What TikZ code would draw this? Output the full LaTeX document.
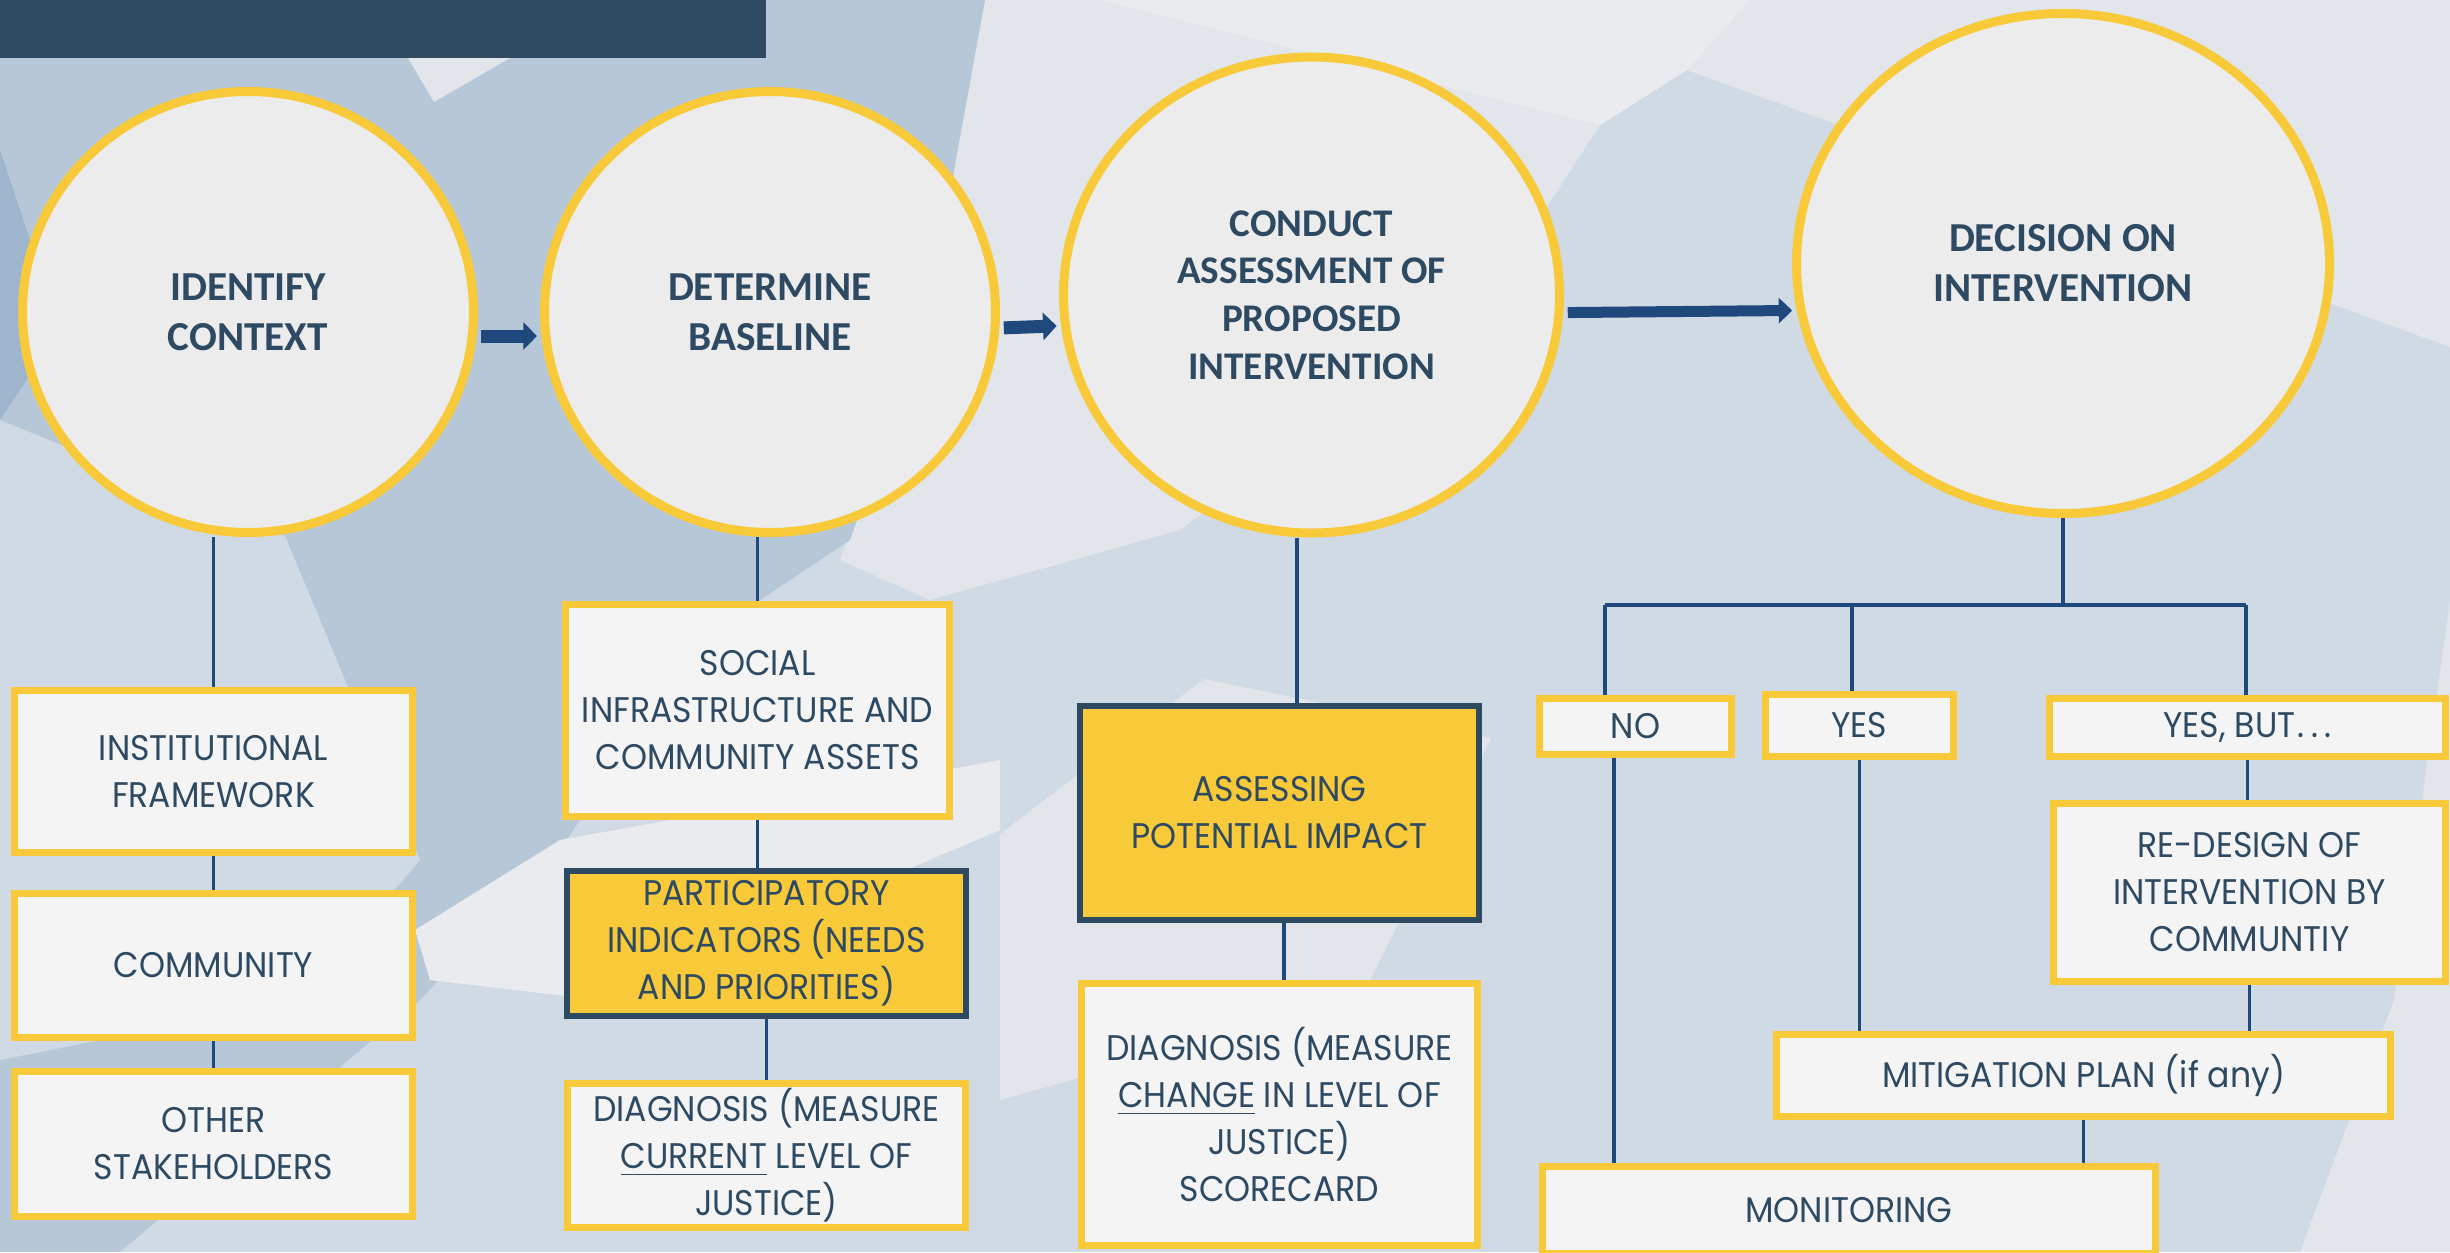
\documentclass[tikz,border=0pt]{standalone}
\usepackage{fontspec}
\newfontfamily\boxfont[FakeStretch=0.93]{Poppins}
\newfontfamily\circfont{Carlito}
\usetikzlibrary{shapes.geometric,arrows.meta}
\definecolor{navy}{HTML}{2E4A62}
\definecolor{gold}{HTML}{F8C938}
\definecolor{cfill}{HTML}{ECECEC}
\definecolor{bfill}{HTML}{F4F4F4}
\definecolor{linkblue}{HTML}{1F497D}
\definecolor{bgbase}{HTML}{D0DAE4}
\definecolor{bgmid}{HTML}{B6C7D8}
\definecolor{bgdark}{HTML}{9FB5CE}
\definecolor{bglight}{HTML}{E2E6EB}
\definecolor{bgpale}{HTML}{E9EBEE}
\pgfdeclarelayer{bg}
\pgfdeclarelayer{lk}
\pgfsetlayers{bg,lk,main}
\tikzset{
  circ/.style={ellipse, draw=gold, line width=2.25pt, fill=cfill, text=navy,
    font=\circfont\bfseries\fontsize{10.3}{12.5}\selectfont, align=center, inner sep=0pt},
  circsmall/.style={circ, font=\circfont\bfseries\fontsize{9.8}{11.9}\selectfont},
  wbox/.style={rectangle, draw=gold, line width=1.75pt, fill=bfill, text=navy,
    font=\boxfont\fontsize{8.9}{11.75}\selectfont, align=center, inner sep=0pt},
  ybox/.style={wbox, draw=navy, fill=gold, line width=1.5pt},
  link/.style={draw=linkblue, line width=0.9pt},
  flow/.style={draw=linkblue, line width=3.25pt, shorten <=1.1pt, shorten >=1.1pt,
    -{Triangle[width=6.75pt,length=3.4pt]}},
  flowthin/.style={flow, line width=2.75pt, -{Triangle[width=6.25pt,length=3.4pt]}}
}
\newcommand{\myul}[1]{\underline{#1}}
\begin{document}
\begin{tikzpicture}[x=0.25pt,y=-0.25pt]
\useasboundingbox (0,0) rectangle (2450,1252);
\begin{pgfonlayer}{bg}
\fill[bgbase] (0,0) rectangle (2450,1252);
\fill[bglight] (985,0) -- (2450,0) -- (2450,347) -- (1687,70) -- (1600,125) -- (1480,310) -- (1180,530) -- (930,600) -- (840,560) -- (925,330) -- cycle;
\fill[bgpale] (1100,0) -- (1750,0) -- (1687,70) -- (1600,125) -- cycle;
\fill[bgmid] (0,0) -- (985,0) -- (925,330) -- (850,540) -- (700,640) -- (560,850) -- (420,1000) -- (120,1252) -- (0,1252) -- cycle;
\fill[bgbase] (0,420) -- (285,536) -- (420,860) -- (300,1000) -- (0,1060) -- cycle;
\fill[bgdark] (0,150) -- (60,330) -- (0,420) -- cycle;
\fill[bglight] (408,58) -- (510,58) -- (434,102) -- cycle;
\fill[bgpale] (415,930) -- (560,840) -- (1000,760) -- (1000,830) -- (600,1000) -- (430,980) -- cycle;
\fill[bglight] (1000,834) -- (1204,679) -- (1491,738) -- (1360,1000) -- (1000,1100) -- cycle;
\fill[bglight] (2450,600) -- (2450,1252) -- (2300,1252) -- (2394,1000) -- cycle;
\fill[navy] (0,0) rectangle (766,58);
\end{pgfonlayer}
% main circles
\node[circ, minimum width=112.75pt, minimum height=110.25pt] (C1) at (248,312) {IDENTIFY\\CONTEXT};
\node[circ, minimum width=112.75pt, minimum height=110.25pt] (C2) at (770,312) {DETERMINE\\BASELINE};
\node[circsmall, minimum width=124pt, minimum height=119pt] (C3) at (1311.5,295) {CONDUCT\\ASSESSMENT OF\\PROPOSED\\INTERVENTION};
\node[circ, minimum width=133.25pt, minimum height=125pt] (C4) at (2063,263.5) {DECISION ON\\INTERVENTION};
% boxes
\node[wbox, minimum width=99.5pt, minimum height=40.5pt] (INST) at (213.5,771.5) {INSTITUTIONAL\\FRAMEWORK};
\node[wbox, minimum width=99.5pt, minimum height=36pt] (COMM) at (213.5,965.5) {COMMUNITY};
\node[wbox, minimum width=99.5pt, minimum height=36.25pt] (OTHER) at (213.5,1144) {OTHER\\STAKEHOLDERS};
\node[wbox, minimum width=96pt, minimum height=53pt] (SOCIAL) at (757.5,710.5) {SOCIAL\\INFRASTRUCTURE AND\\COMMUNITY ASSETS};
\node[ybox, minimum width=99.75pt, minimum height=36.25pt] (PART) at (766.5,943.5) {PARTICIPATORY\\INDICATORS (NEEDS\\AND PRIORITIES)};
\node[wbox, minimum width=99.5pt, minimum height=36pt] (DIAGA) at (766.5,1155.5) {DIAGNOSIS (MEASURE\\\myul{CURRENT} LEVEL OF\\JUSTICE)};
\node[ybox, minimum width=99.75pt, minimum height=53.5pt] (ASSESS) at (1279.5,813) {ASSESSING\\POTENTIAL IMPACT};
\node[wbox, minimum width=99pt, minimum height=65.5pt] (DIAGB) at (1279.5,1114.5) {DIAGNOSIS (MEASURE\\\myul{CHANGE} IN LEVEL OF\\JUSTICE)\\SCORECARD};
\node[wbox, minimum width=48pt, minimum height=14pt] (NO) at (1635.5,726.5) {NO};
\node[wbox, minimum width=47pt, minimum height=15.5pt] (YES) at (1859.5,725.5) {YES};
\node[wbox, minimum width=99pt, minimum height=14.5pt] (YESBUT) at (2247.5,727.5) {YES, BUT\kern0.6pt.\kern1.6pt.\kern1.6pt.};
\node[wbox, minimum width=98pt, minimum height=44.5pt] (REDES) at (2249.5,892.5) {RE-DESIGN OF\\INTERVENTION BY\\COMMUNTIY};
\node[wbox, minimum width=153.5pt, minimum height=20.5pt] (MITIG) at (2083.5,1075.5) {MITIGATION PLAN (if any)};
\node[wbox, minimum width=153.25pt, minimum height=21.75pt] (MONIT) at (1849,1210) {MONITORING};
\coordinate (barL) at (1605,605);
\coordinate (barM) at (1852,605);
\coordinate (barR) at (2246,605);
% links (beneath the nodes)
\begin{pgfonlayer}{lk}
\draw[link] (INST.north) -- (INST.north |- C1.south);
\draw[link] (INST.south) -- (COMM.north);
\draw[link] (COMM.south) -- (OTHER.north);
\draw[link] (SOCIAL.north) -- (SOCIAL.north |- C2.south);
\draw[link] (SOCIAL.south) -- (SOCIAL.south |- PART.north);
\draw[link] (PART.south) -- (DIAGA.north);
\draw[link] ([xshift=4.4pt]ASSESS.north) -- ([xshift=4.4pt]ASSESS.north |- C3.south);
\draw[link] ([xshift=1.1pt]ASSESS.south) -- ([xshift=1.1pt]ASSESS.south |- DIAGB.north);
\draw[link] (C4.south) -- (C4.south |- barL);
\draw[link, line width=1.1pt] (barL) -- (barR);
\draw[link] (barL) -- (barL |- NO.north);
\draw[link] (barM) -- (barM |- YES.north);
\draw[link] (barR) -- (barR |- YESBUT.north);
\draw[link] (YESBUT.south) -- (YESBUT.south |- REDES.north);
\draw[link] ([xshift=-5.4pt]NO.south) -- ([xshift=-5.4pt]NO.south |- MONIT.north);
\draw[link] (YES.south) -- (YES.south |- MITIG.north);
\draw[link] (REDES.south) -- (REDES.south |- MITIG.north);
\draw[link] (MITIG.south) -- (MITIG.south |- MONIT.north);
\end{pgfonlayer}
% flow arrows
\draw[flow] (C1.-6.3) -- (C2.186.3);
\draw[flow] (C2.-4.3) -- (C3.187.8);
\draw[flowthin] (C3.-4.15) -- (C4.190.7);
\end{tikzpicture}
\end{document}
